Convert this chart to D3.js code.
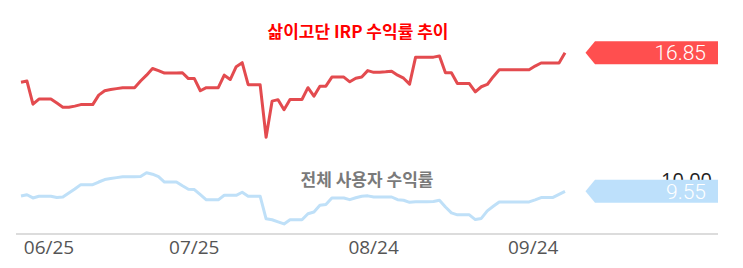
<!DOCTYPE html>
<html>
<head>
<meta charset="utf-8">
<script src="https://cdn.jsdelivr.net/npm/d3@7"></script>
<style>
  body { margin: 0; background: #fff; }
  svg { display: block; font-family: "Noto Sans CJK KR", "Noto Sans", sans-serif; }
</style>
</head>
<body>
<div class="chart"></div>
<script>
// IRP return (red) and all-user return (blue), one point per trading day
const myReturn = [
  15.30, 15.36, 14.14, 14.41, 14.41, 14.41, 14.20, 13.98, 13.98, 14.04,
  14.12, 14.12, 14.12, 14.62, 14.85, 14.91, 14.96, 15.01, 15.01, 15.01,
  15.36, 15.67, 16.02, 15.91, 15.78, 15.78, 15.78, 15.80, 15.49, 15.49,
  14.85, 15.01, 15.01, 15.01, 15.67, 15.44, 16.12, 16.33, 15.17, 15.17,
  15.17, 12.40, 14.30, 14.38, 13.85, 14.39, 14.39, 14.39, 15.01, 14.56,
  15.09, 15.09, 15.57, 15.57, 15.57, 15.32, 15.51, 15.57, 15.91, 15.82,
  15.83, 15.85, 15.88, 15.67, 15.51, 15.20, 16.61, 16.61, 16.61, 16.62,
  16.68, 15.80, 15.80, 15.23, 15.23, 15.23, 14.79, 15.06, 15.18, 15.59,
  15.96, 15.96, 15.96, 15.96, 15.96, 15.96, 16.15, 16.31, 16.31, 16.31,
  16.31, 16.85
]
const allUsers = [
  9.30, 9.37, 9.20, 9.29, 9.29, 9.29, 9.22, 9.25, 9.46, 9.67,
  9.90, 9.90, 9.90, 10.04, 10.17, 10.22, 10.27, 10.32, 10.32, 10.32,
  10.33, 10.53, 10.45, 10.32, 10.04, 10.04, 10.04, 9.84, 9.66, 9.64,
  9.37, 9.10, 9.10, 9.10, 9.34, 9.34, 9.34, 9.50, 9.29, 9.29,
  9.29, 8.10, 8.05, 7.94, 7.83, 8.05, 8.05, 8.05, 8.37, 8.46,
  8.81, 8.85, 9.20, 9.20, 9.20, 9.11, 9.21, 9.29, 9.31, 9.25,
  9.25, 9.25, 9.25, 9.11, 9.08, 8.97, 9.00, 9.00, 9.00, 9.01,
  9.08, 8.72, 8.41, 8.31, 8.31, 8.31, 8.06, 8.12, 8.52, 8.76,
  8.99, 8.99, 8.99, 8.99, 8.99, 8.99, 9.10, 9.22, 9.22, 9.23,
  9.39, 9.55
]
const tickIdx = [4.6, 28.9, 58.9, 85.6]
const tickLabels = ["06/25", "07/25", "08/24", "09/24"]
const yTicks = [10, 20]

const width = 743
const height = 268

const svg = d3.select(".chart")
  .append("svg")
  .attr("width", width)
  .attr("height", height)

const x = d3.scaleLinear()
  .domain([0, myReturn.length - 1])
  .range([21, 565])

const y = d3.scaleLinear()
  .domain([7.3, 20])
  .range([234, -7])

// bottom axis
const xAxis = svg.append("g")
  .attr("transform", "translate(0,234)")
  .call(d3.axisBottom(x)
    .tickValues(tickIdx)
    .tickFormat((d, i) => tickLabels[i])
    .tickSize(0)
    .tickPadding(7))
xAxis.select(".domain").remove()
xAxis.selectAll("text")
  .attr("fill", "#555")
  .style("font-family", "'Open Sans', sans-serif")
  .style("font-size", "19px")

svg.append("line")
  .attr("x1", 16).attr("x2", 718)
  .attr("y1", 234).attr("y2", 234)
  .attr("stroke", "#dcdcdc")
  .attr("stroke-width", 2)

// right value ticks
svg.selectAll(".ytick")
  .data(yTicks)
  .enter()
  .append("text")
    .attr("x", 712)
    .attr("y", d => y(d) + 4)
    .attr("text-anchor", "end")
    .attr("fill", "#222")
    .style("font-family", "'Open Sans', sans-serif")
    .style("font-size", "20px")
    .text(d3.format(".2f"))

const line = d3.line()
  .x((d, i) => x(i))
  .y(d => y(d))

svg.append("path")
  .datum(allUsers)
  .attr("d", line)
  .attr("fill", "none")
  .attr("stroke", "#bfe0f8")
  .attr("stroke-width", 3)
  .attr("stroke-linejoin", "round")

svg.append("path")
  .datum(myReturn)
  .attr("d", line)
  .attr("fill", "none")
  .attr("stroke", "#e34b4f")
  .attr("stroke-width", 3)
  .attr("stroke-linejoin", "round")

// last value tags
const tags = [
  { value: myReturn[myReturn.length - 1], fill: "#ff4f4f", text: "#fff" },
  { value: allUsers[allUsers.length - 1], fill: "#bde0fb", text: "#fff" }
]
tags.forEach(t =>
{
  const cy = y(t.value)
  svg.append("path")
    .attr("d", `M585.5,${cy} L595,${cy - 11.5} L718,${cy - 11.5} L718,${cy + 11.5} L595,${cy + 11.5} Z`)
    .attr("fill", t.fill)
  svg.append("text")
    .attr("x", 706)
    .attr("y", cy + 7.5)
    .attr("text-anchor", "end")
    .attr("fill", t.text)
    .style("font-family", "Roboto, sans-serif")
    .style("font-weight", 300)
    .style("font-size", "21px")
    .text(t.value.toFixed(2))
})

// series titles
svg.append("text")
  .attr("x", 358)
  .attr("y", 38)
  .attr("text-anchor", "middle")
  .attr("fill", "#ff0000")
  .style("font-weight", "bold")
  .style("font-size", "17px")
  .text("삶이고단 IRP 수익률 추이")

svg.append("text")
  .attr("x", 367)
  .attr("y", 186)
  .attr("text-anchor", "middle")
  .attr("fill", "#7a7a7a")
  .style("font-weight", "bold")
  .style("font-size", "17px")
  .text("전체 사용자 수익률")
</script>
</body>
</html>
